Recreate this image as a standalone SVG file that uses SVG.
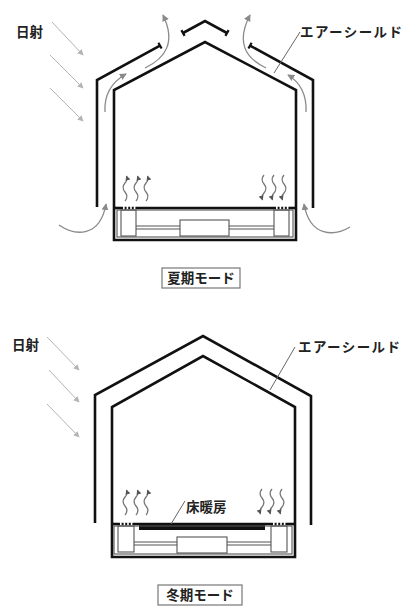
<svg xmlns="http://www.w3.org/2000/svg" width="406" height="606" viewBox="0 0 406 606">
  <style>
    .wall { fill: none; stroke: #111; stroke-width: 2.6; stroke-linejoin: miter; }
    .tick { fill: none; stroke: #111; stroke-width: 2.2; }
    .thin { fill: none; stroke: #555; stroke-width: 1.1; }
    .dots { fill: none; stroke: #111; stroke-width: 2.6; stroke-dasharray: 2 1.6; }
    .air  { fill: none; stroke: #8a8a8a; stroke-width: 1.3; marker-end: url(#ah); }
    .sun  { fill: none; stroke: #b4b4b4; stroke-width: 1; marker-end: url(#sh); }
    .wave { fill: none; stroke: #777; stroke-width: 1.3; marker-end: url(#wh); }
    .lead { fill: none; stroke: #666; stroke-width: 1; }
    .lbl  { font-family: "Noto Sans CJK JP", "Noto Sans", sans-serif; font-weight: bold; font-size: 13.5px; fill: #222; }
    .mode { fill: #fff; stroke: #777; stroke-width: 1.2; }
  </style>
  <defs>
    <marker id="ah" viewBox="0 0 8 8" refX="7" refY="4" markerWidth="7" markerHeight="7" markerUnits="userSpaceOnUse" orient="auto">
      <path d="M0,0 L8,4 L0,8 Z" fill="#8a8a8a"/>
    </marker>
    <marker id="sh" viewBox="0 0 8 8" refX="7" refY="4" markerWidth="6" markerHeight="6" markerUnits="userSpaceOnUse" orient="auto">
      <path d="M0,0 L8,4 L0,8 Z" fill="#b4b4b4"/>
    </marker>
    <marker id="wh" viewBox="0 0 8 8" refX="7" refY="4" markerWidth="5" markerHeight="5" markerUnits="userSpaceOnUse" orient="auto">
      <path d="M0,0 L8,4 L0,8 Z" fill="#555"/>
    </marker>
    <!-- rising warm-air squiggle, drawn bottom to top -->
    <path id="waveUp" class="wave" d="M0,0 c2.5,-3 2.5,-6 0,-9 s-2.5,-6 0,-9 s2.5,-4 1.5,-7"/>
    <!-- descending squiggle, drawn top to bottom -->
    <path id="waveDown" class="wave" d="M0,0 c-2.5,3 -2.5,6 0,9 s2.5,6 0,9 s-2.5,4 -1.5,7"/>
  </defs>

  <!-- ===================== summer mode ===================== -->
  <g id="summer-sun">
    <line class="sun" x1="52" y1="22" x2="83" y2="55"/>
    <line class="sun" x1="50" y1="55" x2="83" y2="88"/>
    <line class="sun" x1="50" y1="88" x2="83" y2="121"/>
    <text class="lbl" x="16" y="37">日射</text>
  </g>

  <g id="summer-shield">
    <!-- outer air shield with open ridge -->
    <polyline class="wall" points="97,207 97,80 160,45.6"/>
    <polyline class="wall" points="183,33 205,21 227,33"/>
    <polyline class="wall" points="313,208 313,80 250,45.6"/>
    <!-- end caps at the ridge openings -->
    <line class="tick" x1="158.4" y1="42.7" x2="161.6" y2="48.5"/>
    <line class="tick" x1="181.4" y1="30.1" x2="184.6" y2="35.9"/>
    <line class="tick" x1="228.6" y1="30.1" x2="225.4" y2="35.9"/>
    <line class="tick" x1="251.6" y1="42.7" x2="248.4" y2="48.5"/>
  </g>

  <g id="summer-house">
    <polyline class="wall" points="114,208 114,90 205,42 296,90 296,208"/>
    <path class="wall" d="M114,208 V240 H296 V208"/>
    <line class="wall" x1="114" y1="208" x2="121" y2="208"/>
    <line class="dots" x1="121" y1="208" x2="136" y2="208"/>
    <line class="wall" x1="136" y1="208" x2="274" y2="208"/>
    <line class="dots" x1="274" y1="208" x2="289" y2="208"/>
    <line class="wall" x1="289" y1="208" x2="296" y2="208"/>
    <!-- underfloor duct and units -->
    <rect class="thin" x="117" y="210" width="176" height="27"/>
    <rect class="thin" x="121" y="210" width="15" height="26"/>
    <rect class="thin" x="274" y="210" width="15" height="26"/>
    <rect class="thin" x="180" y="220" width="49" height="16"/>
    <path class="thin" d="M136,226 H180 M136,229 H180 M229,226 H274 M229,229 H274"/>
  </g>

  <g id="summer-airflow">
    <path class="air" d="M59,225 C75,236 100,238 106,204"/>
    <path class="air" d="M105,112 C104,95 112,82 126,74"/>
    <path class="air" d="M145,68 C166,58 176,42 163,15"/>
    <path class="air" d="M306,112 C307,95 300,82 288,75"/>
    <path class="air" d="M266,68 C245,58 236,42 250,15"/>
    <path class="air" d="M350,227 C335,236 310,238 304,204"/>
    <use href="#waveUp" x="125" y="201"/>
    <use href="#waveUp" x="136" y="201"/>
    <use href="#waveUp" x="146" y="201"/>
    <use href="#waveDown" x="264" y="175"/>
    <use href="#waveDown" x="274" y="175"/>
    <use href="#waveDown" x="284" y="175"/>
  </g>

  <g id="summer-labels">
    <line class="lead" x1="300" y1="32" x2="274" y2="73"/>
    <text class="lbl" x="300" y="37" textLength="102" lengthAdjust="spacing">エアーシールド</text>
    <rect class="mode" x="162" y="268" width="78" height="20"/>
    <text class="lbl" x="201" y="283" text-anchor="middle">夏期モード</text>
  </g>

  <!-- ===================== winter mode ===================== -->
  <g id="winter-sun">
    <line class="sun" x1="47" y1="337" x2="79" y2="370"/>
    <line class="sun" x1="49" y1="370" x2="79" y2="402"/>
    <line class="sun" x1="47" y1="404" x2="79" y2="437"/>
    <text class="lbl" x="12" y="350">日射</text>
  </g>

  <g id="winter-shield">
    <polyline class="wall" points="95,523 95,395 203,336 311,396 311,525"/>
  </g>

  <g id="winter-house">
    <polyline class="wall" points="112,524 112,407 203,356 295,407 295,524"/>
    <path class="wall" d="M112,524 V557 H295 V524"/>
    <line class="wall" x1="112" y1="524" x2="118" y2="524"/>
    <line class="dots" x1="118" y1="524" x2="134" y2="524"/>
    <line class="wall" x1="134" y1="524" x2="271" y2="524"/>
    <line class="dots" x1="271" y1="524" x2="287" y2="524"/>
    <line class="wall" x1="287" y1="524" x2="295" y2="524"/>
    <!-- floor heating panel -->
    <rect x="139" y="524" width="126" height="6" fill="#111"/>
    <!-- underfloor duct and units -->
    <rect class="thin" x="114" y="526" width="178" height="28"/>
    <rect class="thin" x="118" y="526" width="16" height="26"/>
    <rect class="thin" x="271" y="526" width="16" height="26"/>
    <rect class="thin" x="177" y="537" width="50" height="16"/>
    <path class="thin" d="M134,542 H177 M134,545 H177 M227,542 H271 M227,545 H271"/>
  </g>

  <g id="winter-airflow">
    <use href="#waveUp" x="125" y="515"/>
    <use href="#waveUp" x="136" y="515"/>
    <use href="#waveUp" x="146" y="515"/>
    <use href="#waveDown" x="262" y="489"/>
    <use href="#waveDown" x="272" y="489"/>
    <use href="#waveDown" x="282" y="489"/>
  </g>

  <g id="winter-labels">
    <line class="lead" x1="295" y1="347" x2="270" y2="390"/>
    <text class="lbl" x="298" y="352" textLength="102" lengthAdjust="spacing">エアーシールド</text>
    <line class="lead" x1="185" y1="501" x2="171" y2="524"/>
    <text class="lbl" x="186" y="512">床暖房</text>
    <rect class="mode" x="158" y="585" width="84" height="20"/>
    <text class="lbl" x="200" y="600" text-anchor="middle">冬期モード</text>
  </g>
</svg>
